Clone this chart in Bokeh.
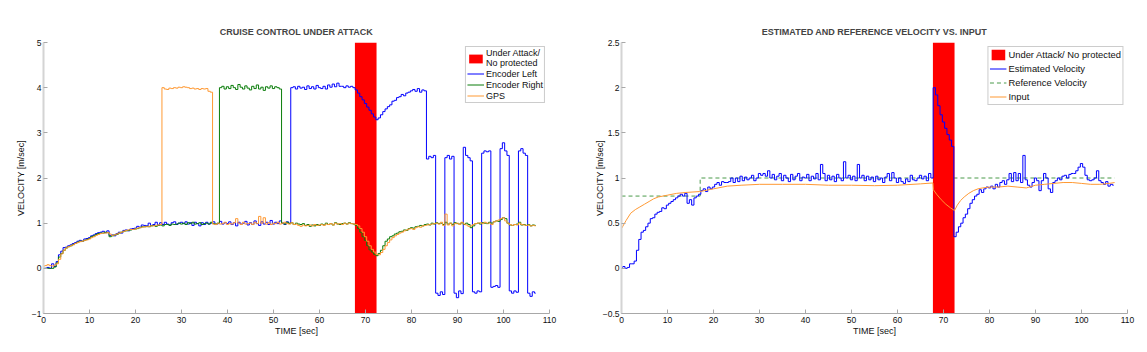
from bokeh.plotting import figure
from bokeh.layouts import row
from bokeh.models import Range1d, FixedTicker, Legend, LegendItem
from bokeh.embed import file_html
from bokeh.resources import INLINE

# ---------------- data ----------------
DT = 0.5  # sample spacing [sec]

# LEFT: sensor readings, sampled every 0.5 s from t=0 to t=107
ENC_LEFT = [
    0, 0, 0.02, 0, 0.1, 0.04, 0.15, 0.3, 0.38, 0.46,
    0.47, 0.5, 0.52, 0.55, 0.57, 0.6, 0.62, 0.6, 0.65, 0.66,
    0.68, 0.72, 0.74, 0.77, 0.79, 0.8, 0.82, 0.79, 0.83, 0.73,
    0.74, 0.72, 0.77, 0.8, 0.78, 0.84, 0.85, 0.83, 0.87, 0.88,
    0.89, 0.93, 0.91, 0.96, 0.95, 0.94, 1.0, 0.95, 0.97, 1.02,
    0.96, 1.01, 0.97, 1.02, 0.98, 0.96, 1.01, 1.03, 0.97, 1.0,
    1.02, 0.99, 1.03, 0.98, 1.01, 0.95, 1.02, 0.99, 0.94, 1.01,
    0.97, 1.02, 0.98, 1.0, 1.03, 0.97, 0.99, 1.04, 0.98, 1.01,
    0.99, 1.03, 0.97, 1.01, 0.94, 1.02, 0.98, 1.0, 1.04, 0.96,
    1.01, 0.97, 1.05, 0.99, 0.95, 1.03, 0.98, 1.02, 0.97, 1.06,
    0.98, 1.02, 0.99, 1.05, 1.0, 0.97, 1.03, 1.0, 4.0, 4.02,
    3.97, 4.03, 3.99, 4.01, 3.96, 4.04, 3.98, 4.02, 3.97, 4.05,
    4.0, 3.98, 4.03, 3.97, 4.06, 4.01, 4.08, 4.02, 4.1, 4.03,
    4.03, 4.0, 4.04, 4.01, 4.03, 4.0, 3.95, 3.88, 3.8, 3.73,
    3.65, 3.57, 3.5, 3.42, 3.35, 3.29, 3.33, 3.4, 3.47, 3.53,
    3.58, 3.62, 3.7, 3.72, 3.78, 3.8, 3.85, 3.82, 3.88, 3.9,
    3.93, 3.96, 3.92, 3.98, 3.9, 3.95, 3.93, 2.42, 2.48, 2.45,
    2.5, -0.55, -0.6, -0.52, -0.58, 2.45, 2.5, 2.42, 2.48, -0.55,
    -0.65, -0.5, -0.56, 2.68, 2.5, 2.45, 2.38, -0.52, -0.55, -0.5,
    -0.52, 2.55, 2.6, 2.58, 2.6, -0.42, -0.4, -0.38, -0.42, 2.65,
    2.78, 2.6, 2.5, -0.5, -0.55, -0.5, -0.53, 2.6, 2.65, 2.55,
    2.5, -0.55, -0.62, -0.52, -0.55,
]
ENC_RIGHT = [
    0, 0, 0, 0, 0, 0.03, 0.12, 0.25, 0.33, 0.4,
    0.45, 0.48, 0.5, 0.53, 0.55, 0.58, 0.6, 0.6, 0.62, 0.64,
    0.66, 0.7, 0.72, 0.75, 0.77, 0.78, 0.78, 0.8, 0.79, 0.7,
    0.72, 0.74, 0.75, 0.78, 0.8, 0.82, 0.83, 0.84, 0.85, 0.86,
    0.87, 0.88, 0.9, 0.92, 0.92, 0.93, 0.92, 0.94, 0.95, 0.93,
    0.95, 0.96, 0.94, 0.97, 0.97, 0.95, 0.98, 0.97, 0.98, 1.0,
    0.98, 1.0, 0.97, 1.01, 0.99, 1.02, 0.98, 0.99, 1.01, 0.97,
    0.99, 1.0, 0.98, 1.02, 0.99, 0.98, 1.0, 4.0, 4.03, 3.97,
    4.02, 3.98, 4.05, 4.0, 3.96, 4.07, 4.01, 3.97, 4.04, 3.99,
    3.95, 4.03, 3.98, 4.06, 3.97, 4.01, 3.94, 4.02, 3.99, 4.04,
    3.98, 4.02, 4.0, 3.97, 1.0, 0.98, 1.02, 0.99, 1.01, 0.97,
    1.0, 0.98, 0.97, 0.99, 0.95, 0.97, 0.93, 0.96, 0.94, 0.97,
    0.95, 0.98, 0.96, 1.0, 0.97, 0.99, 0.96, 1.01, 0.98, 0.97,
    0.99, 1.0, 0.98, 1.01, 0.99, 0.98, 0.95, 0.88, 0.8, 0.7,
    0.62, 0.5, 0.41, 0.36, 0.31, 0.28, 0.33, 0.4, 0.5, 0.6,
    0.65, 0.7, 0.72, 0.76, 0.78, 0.81, 0.82, 0.85, 0.84, 0.88,
    0.9, 0.89, 0.92, 0.93, 0.95, 0.94, 0.97, 0.98, 0.96, 1.0,
    0.98, 1.01, 0.99, 1.0, 0.97, 1.02, 0.98, 1.0, 0.97, 1.01,
    0.99, 0.98, 1.01, 0.97, 1.0, 0.97, 0.9, 0.94, 0.99, 1.0,
    0.98, 1.01, 1.0, 0.99, 1.02, 1.0, 1.03, 1.05, 1.04, 1.08,
    1.12, 1.1, 1.0, 0.96, 0.95, 0.97, 0.98, 1.02, 0.96, 0.97,
    0.95, 0.97, 0.94, 0.96, 0.95,
]
GPS = [
    0.05, 0.06, 0.08, 0.06, 0.05, 0.07, 0.1, 0.2, 0.32, 0.4,
    0.45, 0.48, 0.5, 0.52, 0.55, 0.57, 0.59, 0.6, 0.62, 0.63,
    0.65, 0.68, 0.7, 0.73, 0.75, 0.77, 0.78, 0.78, 0.79, 0.76,
    0.73, 0.74, 0.76, 0.78, 0.8, 0.82, 0.84, 0.85, 0.86, 0.86,
    0.87, 0.89, 0.9, 0.91, 0.92, 0.92, 0.93, 0.94, 0.94, 0.95,
    0.96, 0.97, 4.0, 3.97, 3.96, 3.99, 3.98, 4.0, 3.99, 4.01,
    4.0, 4.02, 4.01, 4.0, 3.98, 3.99, 3.97, 3.98, 3.96, 3.98,
    3.97, 3.98, 3.92, 3.9, 0.98, 0.97, 1.0, 0.98, 0.99, 1.02,
    0.97, 0.99, 0.98, 1.01, 1.1, 1.0, 0.97, 1.02, 0.98, 0.99,
    1.0, 0.97, 1.02, 0.99, 1.15, 1.0, 1.12, 0.98, 1.01, 0.97,
    1.0, 0.99, 1.02, 0.98, 1.0, 1.02, 0.99, 0.98, 1.01, 0.97,
    0.98, 0.95, 0.93, 0.96, 0.94, 0.95, 0.96, 0.94, 0.97, 0.95,
    0.96, 0.97, 0.95, 0.98, 0.97, 0.99, 0.96, 1.0, 0.98, 0.99,
    0.97, 1.0, 0.98, 1.0, 0.99, 0.98, 0.97, 0.94, 0.88, 0.8,
    0.7, 0.6, 0.5, 0.42, 0.36, 0.31, 0.3, 0.35, 0.42, 0.5,
    0.57, 0.63, 0.68, 0.72, 0.75, 0.78, 0.8, 0.83, 0.85, 0.87,
    0.88, 0.86, 0.9, 0.92, 0.91, 0.94, 0.95, 0.96, 0.97, 0.98,
    0.99, 1.0, 0.98, 1.02, 0.95, 1.2, 0.96, 1.0, 0.94, 0.99,
    1.0, 0.97, 1.02, 0.98, 0.96, 0.93, 0.94, 0.97, 0.99, 1.0,
    1.01, 0.99, 1.02, 1.0, 1.0, 0.97, 1.03, 1.05, 1.07, 1.1,
    1.12, 1.05, 1.0, 0.97, 0.95, 0.97, 0.96, 1.0, 0.97, 0.96,
    0.95, 0.96, 0.94, 0.95, 0.94,
]

# RIGHT: estimated velocity (0.5 s samples), reference velocity and input
EST_VEL = [
    0, 0.02, 0, 0.01, 0.05, 0.05, 0.08, 0.2, 0.32, 0.4,
    0.42, 0.46, 0.5, 0.55, 0.56, 0.6, 0.62, 0.63, 0.67, 0.66,
    0.7, 0.72, 0.74, 0.76, 0.78, 0.8, 0.82, 0.8, 0.83, 0.72,
    0.76, 0.7, 0.78, 0.8, 0.82, 0.86, 0.88, 0.85, 0.9, 0.88,
    0.9, 0.93, 0.95, 0.92, 0.96, 0.95, 0.95, 0.96, 1.0, 0.95,
    1.0, 0.96, 1.02, 0.97, 1.01, 0.98, 1.0, 1.03, 0.97, 1.0,
    1.05, 1.03, 1.05, 1.02, 1.08, 1.0, 1.04, 0.98, 1.02, 1.05,
    0.97, 1.03, 1.0, 0.96, 1.04, 0.98, 1.02, 1.05, 0.97, 1.01,
    1.0, 1.04, 0.97, 1.02, 0.99, 1.05, 0.98, 1.15, 1.05, 0.97,
    1.03, 0.98, 1.02, 0.96, 1.04, 1.0, 0.97, 1.18, 1.0, 1.03,
    0.98, 1.02, 0.97, 1.15, 1.0, 1.03, 0.97, 1.02, 0.98, 1.01,
    0.96, 1.02, 0.98, 1.0, 0.95, 1.01, 1.05, 0.97, 1.06, 1.0,
    0.95, 1.0, 0.96, 0.94, 0.99, 0.96, 1.03, 0.98, 0.97, 1.0,
    1.03, 0.99, 1.02, 0.97, 1.05, 1.0, 2.0, 1.92, 1.8, 1.7,
    1.62, 1.55, 1.48, 1.42, 1.35, 0.35, 0.4, 0.46, 0.5, 0.56,
    0.6, 0.66, 0.72, 0.76, 0.8, 0.82, 0.87, 0.84, 0.88, 0.9,
    0.89, 0.91, 0.88, 0.93, 0.9, 0.95, 0.97, 0.93, 0.98, 1.05,
    0.96, 1.06, 0.97, 1.05, 0.95, 1.25, 0.98, 0.92, 0.9, 0.95,
    1.0, 0.97, 0.86, 0.97, 1.05, 1.0, 0.88, 0.84, 0.95, 0.97,
    1.0, 0.98, 1.02, 1.03, 1.0, 1.04, 1.05, 1.05, 1.08, 1.12,
    1.16, 1.12, 1.03, 0.98, 0.97, 0.98, 1.0, 1.08, 0.97, 0.95,
    0.93, 0.96, 0.91, 0.93, 0.92,
]
REF_T = [0, 17.1, 17.1, 107.2]
REF_V = [0.8, 0.8, 1.0, 1.0]
INPUT_T = [0, 1, 2, 3, 4, 5, 6, 7, 8, 10, 12, 14, 17, 20, 23, 26, 30,
           35, 40, 45, 50, 55, 60, 65, 67.7, 67.8, 68.5, 69.5, 70.5, 71.5, 72.4,
           73, 73.7, 74.5, 75.5, 76.5, 77.5, 78.5, 80, 82, 84, 86, 88, 90,
           92, 94, 96, 98, 100, 102, 104, 106, 107.2]
INPUT_V = [0.44, 0.53, 0.61, 0.65, 0.68, 0.71, 0.74, 0.77, 0.79, 0.81, 0.83, 0.84, 0.85, 0.88, 0.91, 0.92, 0.93,
           0.93, 0.93, 0.92, 0.92, 0.915, 0.92, 0.935, 0.945, 0.87, 0.82, 0.76, 0.71, 0.67, 0.64,
           0.7, 0.75, 0.79, 0.83, 0.86, 0.88, 0.89, 0.9, 0.9, 0.91, 0.9, 0.89, 0.92,
           0.93, 0.94, 0.95, 0.95, 0.94, 0.93, 0.93, 0.94, 0.95]

ATTACK = [67.7, 72.4]  # attack window [sec]

X_TICKS = [0, 10, 20, 30, 40, 50, 60, 70, 80, 90, 100, 110]
L_YLIM = [-1, 5]
L_YTICKS = [-1, 0, 1, 2, 3, 4, 5]
L_YLABELS = ["\u22121", "0", "1", "2", "3", "4", "5"]
R_YLIM = [-0.5, 2.5]
R_YTICKS = [-0.5, 0, 0.5, 1, 1.5, 2, 2.5]
R_YLABELS = ["\u22120.5", "0", "0.5", "1", "1.5", "2", "2.5"]

T = [i * DT for i in range(len(ENC_LEFT))]

FONT = "Liberation Sans"
BLUE = "#0000ff"
GREEN = "#0a7d0a"
ORANGE = "#ff9933"
RED = "#ff0000"


def style(p, yticks, ylabels, label_standoff):
    p.title.text_font = FONT
    p.title.text_font_size = "9px"
    p.title.text_font_style = "bold"
    p.title.align = "center"
    p.title.standoff = 11
    p.outline_line_color = None
    p.xgrid.grid_line_color = None
    p.ygrid.grid_line_color = None
    p.background_fill_color = "white"
    p.border_fill_color = "white"
    p.xaxis.ticker = FixedTicker(ticks=X_TICKS)
    p.yaxis.ticker = FixedTicker(ticks=yticks)
    p.yaxis.major_label_overrides = {t: s for t, s in zip(yticks, ylabels)}
    for ax in (p.xaxis[0], p.yaxis[0]):
        ax.major_tick_in = 4
        ax.major_tick_out = 0
        ax.minor_tick_line_color = None
        ax.major_tick_line_color = "#a8a8a8"
        ax.major_label_text_font = FONT
        ax.major_label_text_font_size = "8.5px"
        ax.major_label_text_color = "#111111"
        ax.axis_label_text_font = FONT
        ax.axis_label_text_font_size = "9px"
        ax.axis_label_text_font_style = "normal"
        ax.axis_label_text_color = "#111111"
    p.xaxis.axis_line_color = "#a8a8a8"
    p.xaxis.axis_line_width = 1
    p.yaxis.axis_line_color = "#d4d4d4"
    p.yaxis.axis_line_width = 2
    p.xaxis.major_label_standoff = 3
    p.xaxis.axis_label_standoff = 0
    p.yaxis.major_label_standoff = 2
    p.yaxis.axis_label_standoff = label_standoff
    p.xaxis.axis_label = "TIME [sec]"
    p.yaxis.axis_label = "VELOCITY [m/sec]"


def style_legend(leg, gh, sp, fs):
    leg.location = "top_right"
    leg.margin = 4
    leg.padding = 1
    leg.spacing = sp
    leg.glyph_width = 17
    leg.glyph_height = gh
    leg.label_height = gh
    leg.label_standoff = 2
    leg.label_text_font = FONT
    leg.label_text_font_size = fs
    leg.label_text_color = "#111111"
    leg.border_line_color = "#9a9a9a"
    leg.border_line_width = 1
    leg.background_fill_alpha = 1.0
    leg.background_fill_color = "white"


# ---------------- left figure ----------------
p1 = figure(frame_width=506, frame_height=271,
            min_border_left=43, min_border_right=24, min_border_top=42, min_border_bottom=39,
            x_range=Range1d(0, 110), y_range=Range1d(L_YLIM[0], L_YLIM[1]),
            title="CRUISE CONTROL UNDER ATTACK",
            output_backend="svg", toolbar_location=None)
style(p1, L_YTICKS, L_YLABELS, 3)
ra = p1.quad(left=[ATTACK[0]], right=[ATTACK[1]], bottom=[L_YLIM[0]], top=[L_YLIM[1]],
             fill_color=RED, line_color=None)
rl = p1.step(T, ENC_LEFT, mode="center", line_color=BLUE, line_width=1)
rr = p1.step(T, ENC_RIGHT, mode="center", line_color=GREEN, line_width=1)
rg = p1.step(T, GPS, mode="center", line_color=ORANGE, line_width=1)
leg1 = Legend(items=[
    LegendItem(label="Under Attack/\nNo protected", renderers=[ra]),
    LegendItem(label="Encoder Left", renderers=[rl]),
    LegendItem(label="Encoder Right", renderers=[rr]),
    LegendItem(label="GPS", renderers=[rg]),
])
style_legend(leg1, 11, 0, "9px")
p1.add_layout(leg1)

# ---------------- right figure ----------------
p2 = figure(frame_width=506, frame_height=271,
            min_border_left=48, min_border_right=20, min_border_top=42, min_border_bottom=39,
            x_range=Range1d(0, 110), y_range=Range1d(R_YLIM[0], R_YLIM[1]),
            title="ESTIMATED AND REFERENCE VELOCITY VS. INPUT",
            output_backend="svg", toolbar_location=None)
style(p2, R_YTICKS, R_YLABELS, -5)
rref = p2.line(REF_T, REF_V, line_color="#4a9a4a", line_width=1, line_dash="4 3")
ra2 = p2.quad(left=[ATTACK[0]], right=[ATTACK[1]], bottom=[R_YLIM[0]], top=[R_YLIM[1]],
              fill_color=RED, line_color=None)
rest = p2.step(T, EST_VEL, mode="center", line_color=BLUE, line_width=1)
rin = p2.line(INPUT_T, INPUT_V, line_color=ORANGE, line_width=1)
leg2 = Legend(items=[
    LegendItem(label="Under Attack/ No protected", renderers=[ra2]),
    LegendItem(label="Estimated Velocity", renderers=[rest]),
    LegendItem(label="Reference Velocity", renderers=[rref]),
    LegendItem(label="Input", renderers=[rin]),
])
style_legend(leg2, 13, 1, "9.4px")
p2.add_layout(leg2)

layout = row(p1, p2)
open("out.html", "w").write(file_html(layout, INLINE))
